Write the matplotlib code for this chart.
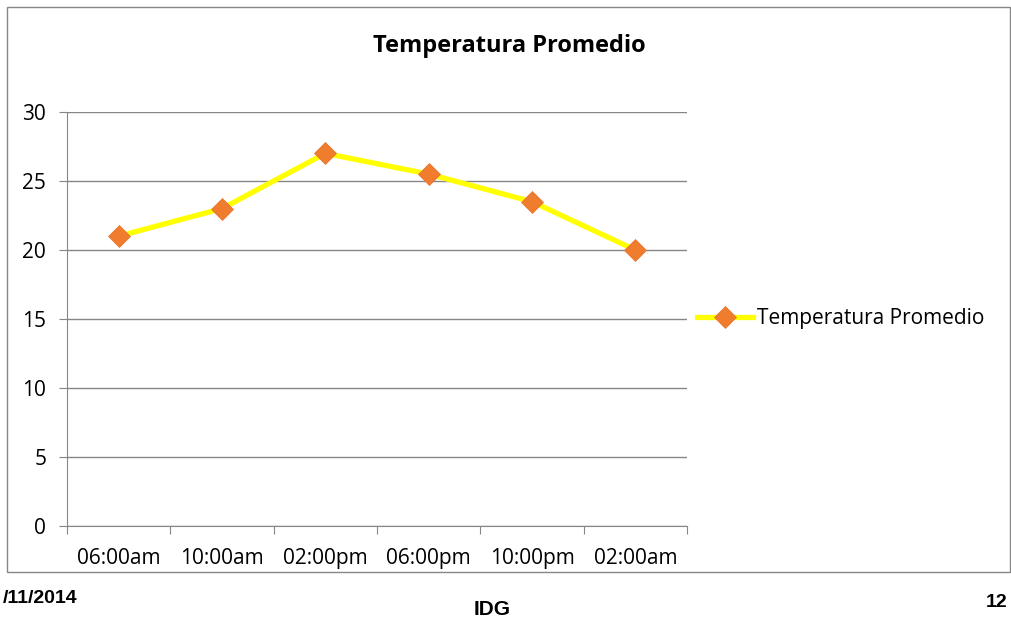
import matplotlib.pyplot as plt
from matplotlib.patches import Rectangle

# Datos
horas = ["06:00am", "10:00am", "02:00pm", "06:00pm", "10:00pm", "02:00am"]
temperatura = [21, 23, 27, 25.5, 23.5, 20]
yticks = [0, 5, 10, 15, 20, 25, 30]

plt.rcParams["font.family"] = ["Open Sans", "DejaVu Sans"]

fig = plt.figure(figsize=(10.12, 6.21), dpi=100)

# marco del grafico
fig.patches.append(Rectangle((0.0069, 0.0789), 0.991, 0.91, transform=fig.transFigure,
                             fill=False, edgecolor="#868686", linewidth=1.0))

ax = fig.add_axes([0.0662, 0.153, 0.6127, 0.6667])
x = list(range(len(horas)))
ax.plot(x, temperatura, color="#FFFF00", linewidth=3.8, marker="D", markersize=11,
        markerfacecolor="#F07D2E", markeredgecolor="#E8702A", markeredgewidth=0.5,
        label="Temperatura Promedio", zorder=3)

ax.set_xlim(-0.5, len(horas) - 0.5)
ax.set_ylim(0, 30)
ax.set_yticks(yticks)
ax.set_xticks([i - 0.5 for i in range(len(horas) + 1)])
ax.set_xticklabels([])
ax.set_xticks(x, minor=True)
ax.set_xticklabels(horas, minor=True)
ax.tick_params(axis="x", which="minor", length=0, pad=16, labelsize=15)
ax.tick_params(axis="x", which="major", length=6, color="#868686")
ax.tick_params(axis="y", length=6, color="#868686", labelsize=15, pad=9)

ax.grid(axis="y", color="#868686", linewidth=1)
for s in ["top", "right"]:
    ax.spines[s].set_visible(False)
ax.spines["left"].set_color("#868686")
ax.spines["bottom"].set_color("#868686")
ax.set_axisbelow(True)

fig.text(0.503, 0.926, "Temperatura Promedio", ha="center", va="center",
         fontsize=17, fontweight="bold")

ax.legend(loc="center left", bbox_to_anchor=(1.0, 0.5), frameon=False,
          fontsize=15, handlelength=2.7, handletextpad=0.2, borderaxespad=0.08)

# pie de pagina
fig.text(0.077, 0.037, "/11/2014", ha="right", va="center", fontsize=14,
         fontweight="bold", family="Liberation Sans")
fig.text(0.486, 0.018, "IDG", ha="center", va="center", fontsize=15,
         fontweight="bold", family="Liberation Sans")
fig.text(0.995, 0.030, "12", ha="right", va="center", fontsize=14,
         fontweight="bold", family="Liberation Sans")

plt.savefig("out.png", dpi=100)
